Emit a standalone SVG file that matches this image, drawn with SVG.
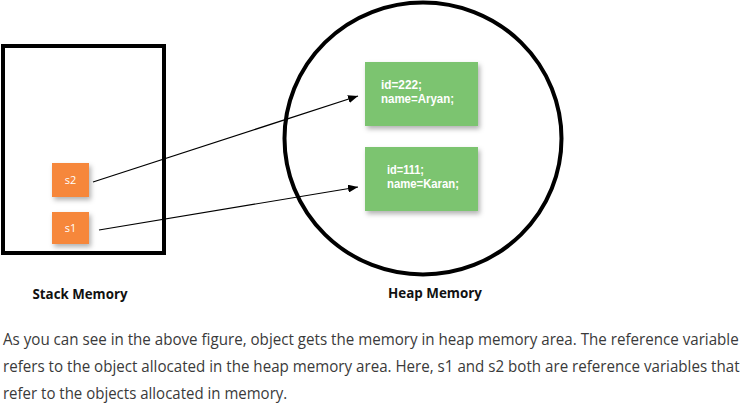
<svg xmlns="http://www.w3.org/2000/svg" width="753" height="419" viewBox="0 0 753 419">
<style>
.frame{fill:none;stroke:#000;stroke-width:4}
.var{fill:#f6873a;filter:url(#sh)}
.obj{fill:#7cc46f;filter:url(#sh)}
.vt{font-family:"Open Sans","Liberation Sans",sans-serif;font-size:11px;fill:#fff;text-anchor:middle}
.ot{font-family:"Liberation Sans",Arial,sans-serif;font-size:12px;font-weight:bold;fill:#fff}
.lbl{font-family:"Open Sans","Liberation Sans",sans-serif;font-size:15px;font-weight:bold;fill:#111}
.para{font-family:"Open Sans","Noto Sans","Liberation Sans",sans-serif;font-size:17px;fill:#3a3a3a}
.conn{stroke:#000;stroke-width:1.2;fill:none;marker-end:url(#ah)}
</style>
<defs>
<filter id="sh" x="-20%" y="-20%" width="150%" height="160%">
<feDropShadow dx="2" dy="3" stdDeviation="2.5" flood-color="#000" flood-opacity="0.3"/>
</filter>
<marker id="ah" viewBox="0 0 10 8" refX="10" refY="4" markerWidth="10" markerHeight="8" markerUnits="userSpaceOnUse" orient="auto">
<path d="M0,0 L10,4 L0,8 Z" fill="#000"/>
</marker>
</defs>
<rect width="753" height="419" fill="#fff"/>
<g id="stack">
<rect class="frame" x="3" y="46" width="161" height="207"/>
<text class="lbl" x="80" y="299" text-anchor="middle" textLength="95" lengthAdjust="spacingAndGlyphs">Stack Memory</text>
</g>
<g id="heap">
<ellipse class="frame" cx="423" cy="138.5" rx="138.5" ry="136"/>
<text class="lbl" x="435" y="298" text-anchor="middle" textLength="94" lengthAdjust="spacingAndGlyphs">Heap Memory</text>
</g>
<g id="s2">
<rect class="var" x="52" y="163" width="37" height="34"/>
<text class="vt" x="70.5" y="184">s2</text>
</g>
<g id="s1">
<rect class="var" x="52" y="212" width="37" height="32"/>
<text class="vt" x="70.5" y="232">s1</text>
</g>
<g id="obj222">
<rect class="obj" x="365" y="62" width="113" height="64"/>
<text class="ot" x="381" y="88.5" textLength="41" lengthAdjust="spacingAndGlyphs">id=222;</text>
<text class="ot" x="381" y="103" textLength="73" lengthAdjust="spacingAndGlyphs">name=Aryan;</text>
</g>
<g id="obj111">
<rect class="obj" x="365" y="147" width="113" height="64"/>
<text class="ot" x="387" y="173.5" textLength="37" lengthAdjust="spacingAndGlyphs">id=111;</text>
<text class="ot" x="387" y="188" textLength="72" lengthAdjust="spacingAndGlyphs">name=Karan;</text>
</g>
<g id="connectors">
<line class="conn" x1="93" y1="182" x2="358" y2="96"/>
<line class="conn" x1="99" y1="230" x2="358" y2="187"/>
</g>
<g id="caption" transform="scale(0.88 1)">
<text class="para" x="3.4" y="345" textLength="836" lengthAdjust="spacingAndGlyphs">As you can see in the above figure, object gets the memory in heap memory area. The reference variable</text>
<text class="para" x="3.4" y="372" textLength="837" lengthAdjust="spacingAndGlyphs">refers to the object allocated in the heap memory area. Here, s1 and s2 both are reference variables that</text>
<text class="para" x="3.4" y="399" textLength="323" lengthAdjust="spacingAndGlyphs">refer to the objects allocated in memory.</text>
</g>
</svg>
